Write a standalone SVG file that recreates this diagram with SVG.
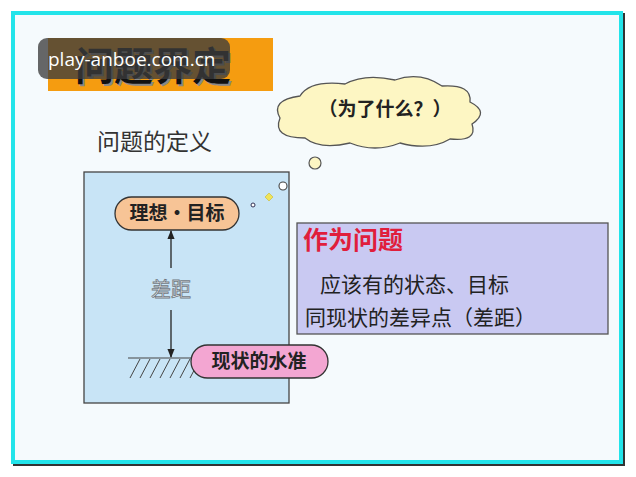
<svg xmlns="http://www.w3.org/2000/svg" width="636" height="477" viewBox="0 0 636 477">
<defs>
<style>
.cjk{font-family:"Noto Sans CJK SC","Liberation Sans",sans-serif;}
.pill{stroke:#333;stroke-width:1.3;}
.ptxt{font-weight:bold;font-size:19px;fill:#222;text-anchor:middle;}
.conn{stroke:#222;stroke-width:1.3;fill:none;}
.hatch{stroke:#444;stroke-width:1;}
.body{font-size:21px;fill:#222;}
</style>
<marker id="ah" viewBox="0 0 10 10" refX="9" refY="5" markerWidth="7" markerHeight="7" orient="auto-start-reverse">
<path d="M0,1 L10,5 L0,9 Z" fill="#222"/>
</marker>
</defs>
<rect width="636" height="477" fill="#ffffff"/>
<g id="frame">
<rect x="15" y="15" width="608" height="449" fill="none" stroke="#333" stroke-width="4"/>
<rect x="13" y="13" width="608" height="449" fill="#f5fafd" stroke="#22e4ea" stroke-width="4"/>
</g>
<g id="title">
<rect x="48" y="38" width="225" height="53" fill="#f59c10"/>
<text x="77" y="82" class="cjk" font-size="39" font-weight="bold" fill="#888">问题界定</text>
<text x="75" y="80" class="cjk" font-size="39" font-weight="bold" fill="#111">问题界定</text>
</g>
<g id="watermark">
<rect x="38" y="38" width="192" height="41" rx="9" fill="#3c3c3c" fill-opacity="0.78"/>
<text x="48" y="66" font-family="Open Sans, Liberation Sans, sans-serif" font-size="19" fill="#ffffff">play-anboe.com.cn</text>
</g>
<g id="subtitle">
<text x="97" y="150" class="cjk" font-size="23" fill="#333">问题的定义</text>
</g>
<g id="cloud">
<path d="M280,118 Q270,100 300,96 Q310,80 345,84 Q365,73 395,80 Q420,71 442,86 Q472,84 470,102 Q490,112 472,124 Q478,142 450,139 Q430,151 400,143 Q375,153 350,143 Q320,150 305,138 Q272,138 280,118 Z" fill="#fdf6c3" stroke="#555" stroke-width="1.3"/>
<text x="385" y="116" class="cjk" font-size="19" font-weight="bold" fill="#222" text-anchor="middle">（为了什么？）</text>
<circle cx="315" cy="163" r="6" fill="#fdf6c3" stroke="#555" stroke-width="1.2"/>
</g>
<g id="panel">
<rect x="84" y="172" width="205" height="231" fill="#c8e4f6" stroke="#444" stroke-width="1.3"/>
<circle cx="283" cy="186" r="4" fill="#fff" stroke="#444" stroke-width="1.1"/>
<path d="M269,193 L273,197 L269,201 L265,197 Z" fill="#f0e45a" stroke="#c8b830" stroke-width="0.6"/>
<circle cx="253" cy="205" r="2" fill="#fff" stroke="#335" stroke-width="1"/>
</g>
<g id="ideal">
<rect x="115" y="197" width="124" height="33" rx="16.5" class="pill" fill="#f7c496"/>
<text x="177" y="220" class="cjk ptxt">理想・目标</text>
</g>
<g id="ground">
<line x1="128" y1="358" x2="200" y2="358" class="hatch"/>
<g class="hatch">
<line x1="130" y1="378" x2="140" y2="359"/>
<line x1="140" y1="378" x2="150" y2="359"/>
<line x1="150" y1="378" x2="160" y2="359"/>
<line x1="160" y1="378" x2="170" y2="359"/>
<line x1="170" y1="378" x2="180" y2="359"/>
<line x1="180" y1="378" x2="190" y2="359"/>
<line x1="190" y1="378" x2="200" y2="359"/>
</g>
</g>
<g id="current">
<rect x="191" y="345" width="137" height="33" rx="16.5" class="pill" fill="#f3a6d2"/>
<text x="259" y="368" class="cjk ptxt">现状的水准</text>
</g>
<g id="connectors">
<line x1="171" y1="268" x2="171" y2="231" class="conn" marker-end="url(#ah)"/>
<line x1="171" y1="310" x2="171" y2="357" class="conn" marker-end="url(#ah)"/>
<text x="171" y="297" class="cjk" font-size="20" fill="#eef2f6" stroke="#70787f" stroke-width="0.8" text-anchor="middle">差距</text>
</g>
<g id="problem">
<rect x="297" y="223" width="311" height="111" fill="#c9c9f2" stroke="#555" stroke-width="1.3"/>
<text x="303" y="249" class="cjk" font-size="25" font-weight="bold" fill="#e01e3c">作为问题</text>
<text x="320" y="292" class="cjk body">应该有的状态、目标</text>
<text x="305" y="325" class="cjk body">同现状的差异点（差距）</text>
</g>
</svg>
